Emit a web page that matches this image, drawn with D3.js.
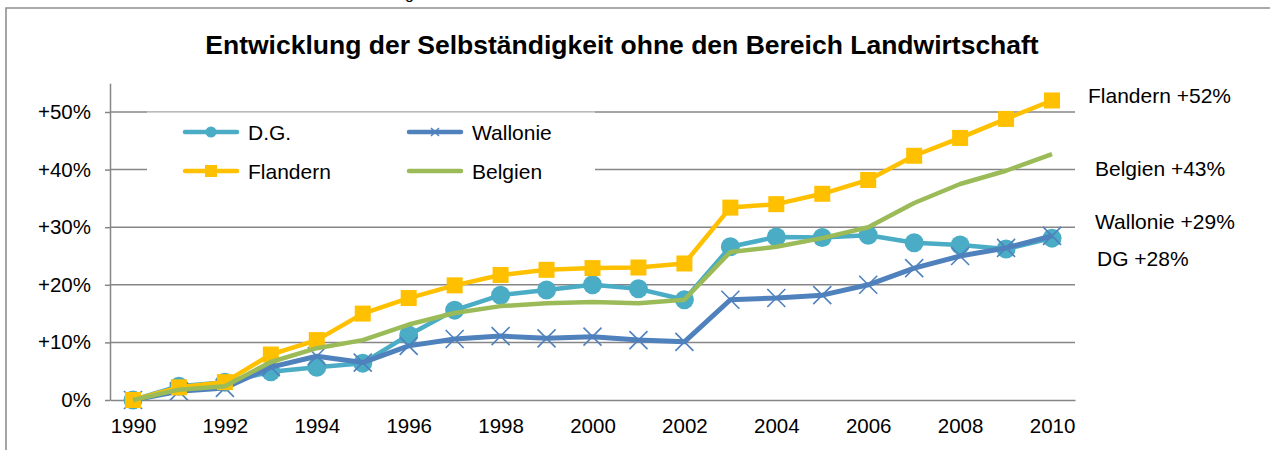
<!DOCTYPE html>
<html>
<head>
<meta charset="utf-8">
<script src="https://cdn.jsdelivr.net/npm/d3@7"></script>
<style>
  html, body { margin: 0; padding: 0; background: #fff; }
  svg { display: block; font-family: "Liberation Sans", Arial, sans-serif; }
</style>
</head>
<body>
<svg id="chart" width="1270" height="450"></svg>
<script>
const years = d3.range(1990, 2011);
const xTickLabels = [1990, 1992, 1994, 1996, 1998, 2000, 2002, 2004, 2006, 2008, 2010];
const yTicks = [0, 10, 20, 30, 40, 50];
const yTickLabels = ["0%", "+10%", "+20%", "+30%", "+40%", "+50%"];

const dg       = [0, 2.4, 3.1, 4.9, 5.7, 6.4, 11.3, 15.6, 18.2, 19.1, 20.0, 19.3, 17.4, 26.6, 28.3, 28.2, 28.6, 27.3, 26.9, 26.2, 28.1];
const wallonie = [0, 1.5, 2.1, 5.7, 7.6, 6.5, 9.4, 10.6, 11.1, 10.7, 11.0, 10.4, 10.1, 17.4, 17.7, 18.2, 20.0, 22.9, 25.0, 26.4, 28.5];
const flandern = [0, 2.2, 3.1, 7.9, 10.4, 15.0, 17.7, 19.9, 21.7, 22.6, 22.9, 23.0, 23.7, 33.4, 34.0, 35.8, 38.2, 42.4, 45.5, 48.8, 52.0];
const belgien  = [0, 1.8, 2.4, 6.6, 9.0, 10.4, 13.1, 15.1, 16.3, 16.8, 17.0, 16.8, 17.4, 25.7, 26.6, 28.1, 30.0, 34.2, 37.5, 39.8, 42.7];

const seriesNames = ["D.G.", "Wallonie", "Flandern", "Belgien"];
const endLabels = ["Flandern +52%", "Belgien +43%", "Wallonie +29%", "DG +28%"];
const titleText = "Entwicklung der Selbständigkeit ohne den Bereich Landwirtschaft";

const colors = { dg: "#4BACC6", wal: "#4F81BD", fla: "#FFC000", bel: "#9BBB59" };
const svg = d3.select("#chart");

// outer frame
svg.append("path").attr("d", "M6,450 L6,8 L1270,8").attr("fill", "none")
  .attr("stroke", "#8f8f8f").attr("stroke-width", 1.6);
svg.append("text").attr("x", 405).attr("y", -1).attr("font-size", 16).text("g");

const x = d3.scalePoint().domain(years).range([110, 1075]).padding(0.5);
const y = d3.scaleLinear().domain([0, 55]).range([400, 83.2]);

// title
svg.append("text").attr("x", 622).attr("y", 54).attr("text-anchor", "middle")
  .attr("font-size", 26.5).attr("font-weight", "bold").attr("fill", "#000").text(titleText);

// gridlines
svg.append("g").selectAll("line").data(yTicks.slice(1)).join("line")
  .attr("x1", 110).attr("x2", 1075).attr("y1", d => y(d)).attr("y2", d => y(d))
  .attr("stroke", "#868686").attr("stroke-width", 1.5);

// y axis
const yAxis = svg.append("g").attr("transform", "translate(110,0)")
  .call(d3.axisLeft(y).tickValues(yTicks).tickSize(5).tickSizeOuter(0)
    .tickFormat((d, i) => yTickLabels[i]));
yAxis.select(".domain").attr("stroke", "#868686").attr("stroke-width", 1.5);
yAxis.selectAll(".tick line").attr("stroke", "#868686").attr("stroke-width", 1.5);
yAxis.selectAll(".tick text").attr("x", -19).attr("font-size", 20.5).attr("fill", "#000")
  .attr("font-family", "Liberation Sans, Arial, sans-serif");

// x axis
const xAxis = svg.append("g").attr("transform", `translate(0,${y(0)})`)
  .call(d3.axisBottom(x).tickValues(xTickLabels).tickSize(0).tickSizeOuter(0));
xAxis.select(".domain").attr("stroke", "#868686").attr("stroke-width", 1.5);
xAxis.selectAll(".tick text").attr("y", 0).attr("dy", 33).attr("font-size", 20.5).attr("fill", "#000")
  .attr("font-family", "Liberation Sans, Arial, sans-serif");

// legend box (covers gridlines)
svg.append("rect").attr("x", 147).attr("y", 112.5).attr("width", 448).attr("height", 80).attr("fill", "#fff");
svg.append("line").attr("x1", 147).attr("x2", 595).attr("y1", 112).attr("y2", 112)
  .attr("stroke", "#d4d4d4").attr("stroke-width", 1.2);

const line = d3.line().x((d, i) => x(years[i])).y(d => y(d));
const plot = svg.append("g");

// D.G.
plot.append("path").datum(dg).attr("d", line).attr("fill", "none")
  .attr("stroke", colors.dg).attr("stroke-width", 4.5).attr("stroke-linejoin", "round");
plot.append("g").selectAll("circle").data(dg).join("circle")
  .attr("cx", (d, i) => x(years[i])).attr("cy", d => y(d)).attr("r", 9.5).attr("fill", colors.dg);

// Wallonie
plot.append("path").datum(wallonie).attr("d", line).attr("fill", "none")
  .attr("stroke", colors.wal).attr("stroke-width", 5).attr("stroke-linejoin", "round");
plot.append("g").selectAll("path").data(wallonie).join("path")
  .attr("transform", (d, i) => `translate(${x(years[i])},${y(d)})`)
  .attr("d", "M-9,-9L9,9M-9,9L9,-9").attr("stroke", colors.wal).attr("stroke-width", 1.6).attr("fill", "none");

// Flandern
plot.append("path").datum(flandern).attr("d", line).attr("fill", "none")
  .attr("stroke", colors.fla).attr("stroke-width", 4.5).attr("stroke-linejoin", "round");
plot.append("g").selectAll("rect").data(flandern).join("rect")
  .attr("x", (d, i) => x(years[i]) - 8).attr("y", d => y(d) - 8)
  .attr("width", 16).attr("height", 16).attr("fill", colors.fla);

// Belgien
plot.append("path").datum(belgien).attr("d", line).attr("fill", "none")
  .attr("stroke", colors.bel).attr("stroke-width", 4.5).attr("stroke-linejoin", "round");

// legend entries
const legendItems = [
  { name: seriesNames[0], color: colors.dg, marker: "circle", lx: 183, ly: 132 },
  { name: seriesNames[1], color: colors.wal, marker: "x", lx: 407, ly: 132 },
  { name: seriesNames[2], color: colors.fla, marker: "square", lx: 183, ly: 171 },
  { name: seriesNames[3], color: colors.bel, marker: "none", lx: 407, ly: 171 }
];
const lg = svg.append("g").selectAll("g").data(legendItems).join("g")
  .attr("transform", d => `translate(${d.lx},${d.ly})`);
lg.append("line").attr("x1", 2).attr("x2", 54).attr("stroke", d => d.color)
  .attr("stroke-width", 4.5).attr("stroke-linecap", "round");
lg.filter(d => d.marker === "circle").append("circle").attr("cx", 28).attr("r", 5.5).attr("fill", d => d.color);
lg.filter(d => d.marker === "square").append("rect").attr("x", 22).attr("y", -6).attr("width", 12).attr("height", 12).attr("fill", d => d.color);
lg.filter(d => d.marker === "x").append("path").attr("d", "M24,-4L32,4M24,4L32,-4")
  .attr("stroke", d => d.color).attr("stroke-width", 1.5);
lg.append("text").attr("x", 65).attr("y", 7.5).attr("font-size", 21).attr("fill", "#000").text(d => d.name);

// end labels
const endPos = [[1088, 103], [1095, 176], [1095, 229], [1097, 266]];
svg.append("g").selectAll("text").data(endLabels).join("text")
  .attr("x", (d, i) => endPos[i][0]).attr("y", (d, i) => endPos[i][1])
  .attr("font-size", 21).attr("fill", "#000").text(d => d);
</script>
</body>
</html>
